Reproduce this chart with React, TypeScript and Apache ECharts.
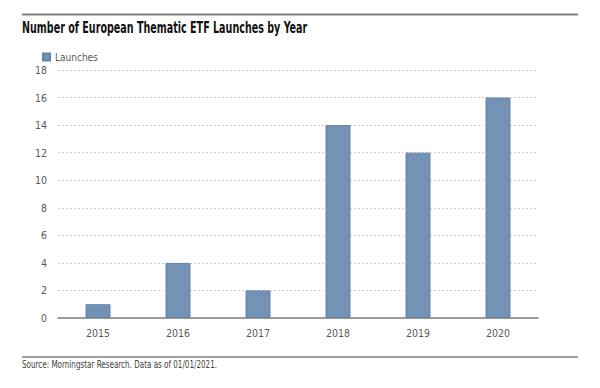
import React, { useEffect, useRef } from "react";
import * as echarts from "echarts";

const categories = ["2015", "2016", "2017", "2018", "2019", "2020"];
const launches = [1, 4, 2, 14, 12, 16];
const seriesName = "Launches";
const titleText = "Number of European Thematic ETF Launches by Year";
const sourceText = "Source: Morningstar Research. Data as of 01/01/2021.";

const FONT = "'DejaVu Sans Condensed', 'Liberation Sans Narrow', sans-serif";

export default function App() {
  const ref = useRef<HTMLDivElement>(null);
  useEffect(() => {
    if (!ref.current) return;
    const chart = echarts.init(ref.current, undefined, { renderer: "svg" });
    chart.setOption({
      animation: false,
      backgroundColor: "#ffffff",
      legend: {
        data: [seriesName],
        left: 37,
        top: 47,
        itemWidth: 7,
        itemHeight: 7,
        itemGap: 3,
        icon: "rect",
        textStyle: { fontFamily: FONT, fontSize: 10, color: "#595959" },
      },
      grid: { left: 58, right: 62, top: 70, bottom: 70, containLabel: false },
      xAxis: {
        type: "category",
        data: categories,
        axisLine: { show: true, lineStyle: { color: "#7f7f7f", width: 1.5 } },
        axisTick: { show: false },
        axisLabel: { fontFamily: FONT, fontSize: 10.5, color: "#595959", margin: 9 },
      },
      yAxis: {
        type: "value",
        min: 0,
        max: 18,
        interval: 2,
        axisLine: { show: false },
        axisTick: { show: false },
        axisLabel: { fontFamily: FONT, fontSize: 10.5, color: "#595959", margin: 11 },
        splitLine: { show: true, lineStyle: { color: "#cccccc", type: [2, 2], width: 1 } },
      },
      series: [
        {
          name: seriesName,
          type: "bar",
          data: launches,
          barWidth: 25,
          itemStyle: { color: "#7491b6", borderColor: "#6482a8", borderWidth: 1 },
        },
      ],
      graphic: [
        { type: "line", shape: { x1: 22, y1: 14.5, x2: 578, y2: 14.5 }, style: { stroke: "#808080", lineWidth: 2 } },
        { type: "line", shape: { x1: 22, y1: 357, x2: 578, y2: 357 }, style: { stroke: "#808080", lineWidth: 1.5 } },
        {
          type: "text",
          x: 22,
          y: 28,
          scaleX: 0.71,
          style: {
            text: titleText,
            fontFamily: FONT,
            fontWeight: "bold",
            fontSize: 15,
            fill: "#111111",
            verticalAlign: "middle",
          },
        },
        {
          type: "text",
          x: 22,
          y: 365,
          scaleX: 0.8,
          style: { text: sourceText, fontFamily: FONT, fontSize: 10, fill: "#404040", verticalAlign: "middle" },
        },
      ],
    });
    return () => chart.dispose();
  }, []);
  return <div ref={ref} style={{ width: 600, height: 388, position: "absolute", left: 0, top: 0 }} />;
}
